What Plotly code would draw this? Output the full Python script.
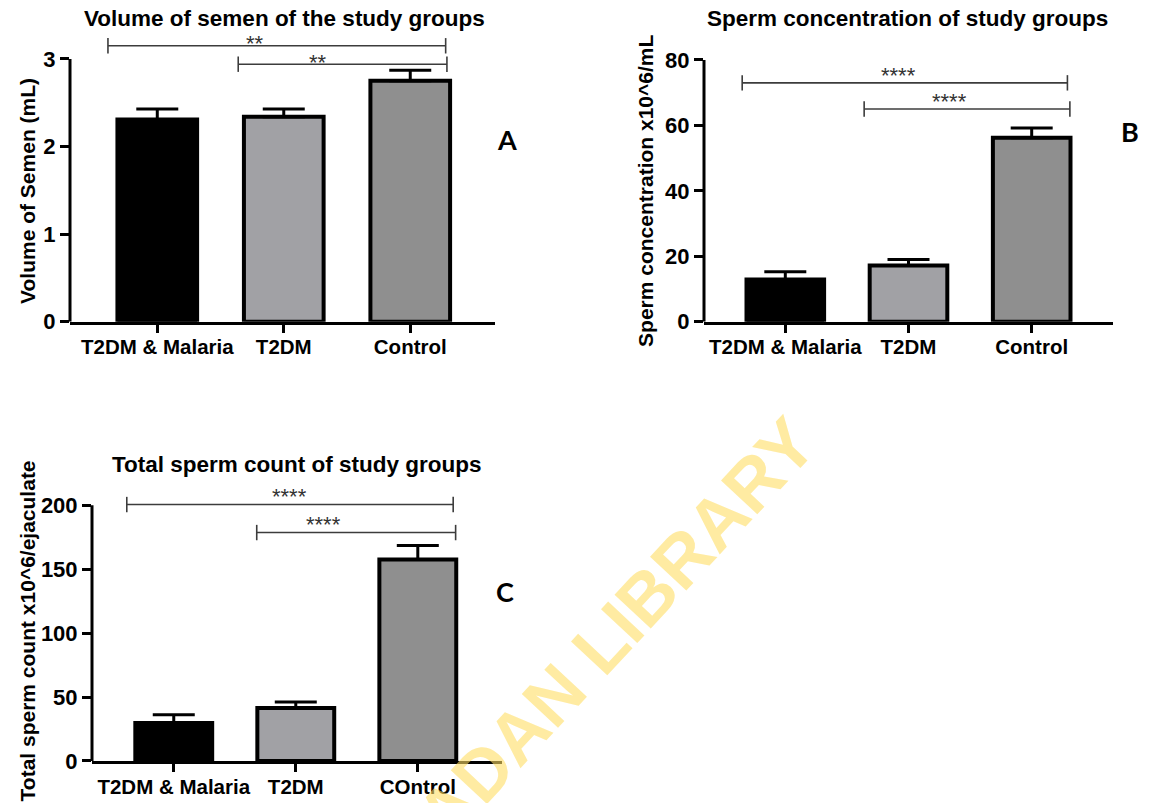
import plotly.graph_objects as go

# ---------------- data ----------------
categories_ab = ["T2DM & Malaria", "T2DM", "Control"]
categories_c = ["T2DM & Malaria", "T2DM", "COntrol"]

volume_mean = [2.31, 2.34, 2.75]
volume_sem = [0.12, 0.09, 0.12]

conc_mean = [12.9, 17.2, 56.2]
conc_sem = [2.4, 1.8, 3.0]

count_mean = [29.7, 41.4, 157.6]
count_sem = [6.5, 4.7, 10.9]

titles = ["Volume of semen of the study groups",
          "Sperm concentration of study groups",
          "Total sperm count of study groups"]
ytitles = ["Volume of Semen (mL)",
           "Sperm concentration x10^6/mL",
           "Total sperm count x10^6/ejaculate"]
yticks_a = [0, 1, 2, 3]
yticks_b = [0, 20, 40, 60, 80]
yticks_c = [0, 50, 100, 150, 200]

# significance brackets: (start, end, height, label, label x, label y)
sig_a = [(-0.39, 2.28, 3.15, "**", 0.77, 3.22), (0.64, 2.29, 2.94, "**", 1.27, 3.01)]
sig_b = [(-0.35, 2.29, 73.0, "****", 0.915, 76.4), (0.64, 2.31, 65.0, "****", 1.33, 68.4)]
sig_c = [(-0.385, 2.29, 200.5, "****", 0.95, 209.8), (0.68, 2.31, 178.6, "****", 1.23, 187.9)]

# ---------------- styling ----------------
# the page body keeps its default 8px margin; vertical positions are given in
# picture pixels and converted with the small vertical squeeze of the capture
OFF = 8
VS = 0.985
W, H = 1151 - 2 * OFF, 809
FONT = "Liberation Sans"
bar_colors = ["#000000", "#a1a1a5", "#8f8f8f"]
BRK = "#3c3c3c"


def px(x):
    return (x - OFF) / W


def py(y):
    return 1 - (y / VS - OFF) / H


panels = [
    dict(cats=categories_ab, mean=volume_mean, sem=volume_sem, ticks=yticks_a, sig=sig_a,
         xdom=(70, 495), ydom=(322, 33), xr=(-0.69, 2.67), yr=(0, 3.295),
         title=titles[0], title_pos=(284, 18), ytitle=ytitles[0], ytitle_pos=(28, 191),
         tag="A", tag_pos=(507, 140)),
    dict(cats=categories_ab, mean=conc_mean, sem=conc_sem, ticks=yticks_b, sig=sig_b,
         xdom=(704, 1113), ydom=(322, 33), xr=(-0.66, 2.66), yr=(0, 88.2),
         title=titles[1], title_pos=(908, 18), ytitle=ytitles[1], ytitle_pos=(646, 191),
         tag="B", tag_pos=(1130, 132)),
    dict(cats=categories_c, mean=count_mean, sem=count_sem, ticks=yticks_c, sig=sig_c,
         xdom=(92, 502), ydom=(761.7, 480), xr=(-0.67, 2.69), yr=(0, 220),
         title=titles[2], title_pos=(297, 465), ytitle=ytitles[2], ytitle_pos=(27, 632),
         tag="C", tag_pos=(505, 592)),
]

fig = go.Figure()
annotations = []
shapes = []
layout = {}

for i, p in enumerate(panels):
    n = "" if i == 0 else str(i + 1)
    xa, ya = "x" + n, "y" + n
    idx = list(range(len(p["cats"])))
    fig.add_trace(go.Bar(
        x=idx, y=p["mean"], xaxis=xa, yaxis=ya, width=0.63,
        marker=dict(color=bar_colors, line=dict(color="black", width=4)),
        error_y=dict(type="data", array=p["sem"], arrayminus=[0] * len(idx),
                     symmetric=False, width=21, thickness=3, color="black"),
        showlegend=False, hoverinfo="skip"))
    for (x0, x1, yv, lab, lx, ly) in p["sig"]:
        fig.add_trace(go.Scatter(
            x=[x0, x1], y=[yv, yv], xaxis=xa, yaxis=ya, mode="lines+markers",
            line=dict(color=BRK, width=1.6),
            marker=dict(symbol="line-ns", size=11, line=dict(color=BRK, width=1.6)),
            cliponaxis=False, showlegend=False, hoverinfo="skip"))
        annotations.append(dict(
            x=lx, y=ly, xref=xa, yref=ya, text=lab, showarrow=False,
            xanchor="center", yanchor="middle", yshift=-4,
            font=dict(family=FONT, size=22, color="#333333")))
    layout["xaxis" + n] = dict(
        domain=[px(p["xdom"][0]), px(p["xdom"][1])], range=list(p["xr"]),
        anchor=ya, tickvals=idx, ticktext=p["cats"], showgrid=False, zeroline=False,
        showline=True, linecolor="black", linewidth=3,
        ticks="outside", ticklen=8, tickwidth=3, tickcolor="black", ticklabelstandoff=-3,
        tickfont=dict(family=FONT, size=20.5, color="black", weight="bold"))
    layout["yaxis" + n] = dict(
        domain=[py(p["ydom"][0]), py(p["ydom"][1])], range=list(p["yr"]),
        anchor=xa, tickvals=p["ticks"], showgrid=False, zeroline=False, showline=False,
        ticks="outside", ticklen=9, tickwidth=3, tickcolor="black",
        tickfont=dict(family=FONT, size=22, color="black", weight="bold"))
    shapes.append(dict(type="line", xref=xa + " domain", yref=ya,
                       x0=0, x1=0, y0=0, y1=max(p["ticks"]),
                       line=dict(color="black", width=3)))
    annotations.append(dict(
        x=px(p["title_pos"][0]), y=py(p["title_pos"][1]), xref="paper", yref="paper",
        text=p["title"], showarrow=False, xanchor="center", yanchor="middle",
        font=dict(family=FONT, size=22.5, color="black", weight="bold")))
    annotations.append(dict(
        x=px(p["ytitle_pos"][0]), y=py(p["ytitle_pos"][1]), xref="paper", yref="paper",
        text=p["ytitle"], showarrow=False, textangle=-90, xanchor="center", yanchor="middle",
        font=dict(family=FONT, size=21, color="black", weight="bold")))
    annotations.append(dict(
        x=px(p["tag_pos"][0]), y=py(p["tag_pos"][1]), xref="paper", yref="paper",
        text=p["tag"], showarrow=False, xanchor="center", yanchor="middle",
        font=dict(family="Lato", size=27, color="black", weight="bold")))

# watermark
annotations.append(dict(
    x=px(397), y=py(865), xref="paper", yref="paper",
    text="UNIVERSITY OF IBADAN LIBRARY", showarrow=False, textangle=-47,
    xanchor="center", yanchor="middle",
    font=dict(family=FONT, size=72, color="rgba(255,222,100,0.6)", weight="bold")))

fig.update_layout(
    width=W, height=H, autosize=False,
    margin=dict(l=0, r=0, t=0, b=0),
    paper_bgcolor="white", plot_bgcolor="white",
    annotations=annotations, shapes=shapes, bargap=0.3,
    **layout)

fig.write_html("out.html")
